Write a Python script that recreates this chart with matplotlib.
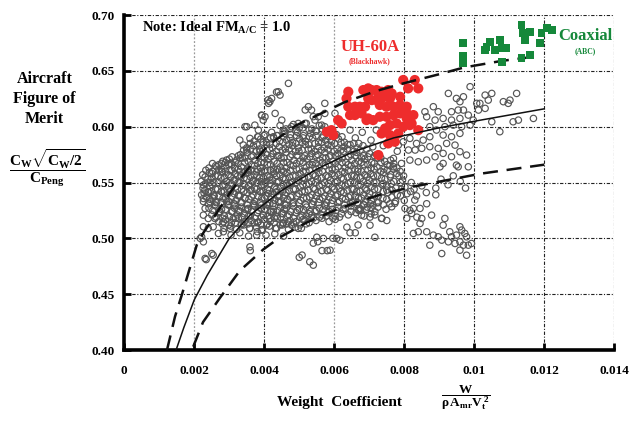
import numpy as np
import matplotlib
matplotlib.use("Agg")
import matplotlib.pyplot as plt

plt.rcParams['font.family'] = ['Liberation Serif', 'DejaVu Serif']
plt.rcParams['font.weight'] = 'bold'
plt.rcParams['mathtext.fontset'] = 'custom'
plt.rcParams['mathtext.rm'] = 'Liberation Serif:bold'
plt.rcParams['mathtext.it'] = 'Liberation Serif:bold'
plt.rcParams['mathtext.bf'] = 'Liberation Serif:bold'

# all points: x in units of 1e-4, y in units of 1e-3
# dense core of the survey data, read row by row
gray_core = [
    (44.5,601),(46.2,598),(48.3,602),(50.0,599),(52.0,603),(53.6,598),(55.7,601),(57.3,600),(59.4,597),
    (40.2,593),(42.1,595),(43.8,592),(45.8,596),(47.5,593),(49.5,595),(51.2,592),(53.2,594),(54.9,596),(56.9,592),(58.6,595),(60.6,593),(62.2,591),
    (37.1,587),(39.0,589),(40.7,586),(42.7,590),(44.4,587),(46.4,588),(48.1,586),(50.1,589),(51.8,587),(53.8,590),(55.5,586),(57.5,588),(59.2,587),(61.2,589),(62.9,586),
    (35.0,581),(36.9,583),(38.6,580),(40.6,584),(42.3,581),(44.3,582),(46.0,580),(48.0,583),(49.7,581),(51.7,584),(53.4,580),(55.4,582),(57.1,581),(59.1,583),(60.8,580),(62.8,582),(64.5,584),(66.5,581),(68.2,583),
    (33.2,575),(35.1,577),(36.8,574),(38.8,578),(40.5,575),(42.5,576),(44.2,574),(46.2,577),(47.9,575),(49.9,578),(51.6,574),(53.6,576),(55.3,575),(57.3,577),(59.0,574),(61.0,576),(62.7,578),(64.7,575),(66.4,577),(68.4,574),(70.1,576),(72.1,575),
    (28.1,569),(30.0,571),(31.7,568),(33.7,572),(35.4,569),(37.4,570),(39.1,568),(41.1,571),(42.8,569),(44.8,572),(46.5,568),(48.5,570),(50.2,569),(52.2,571),(53.9,568),(55.9,570),(57.6,572),(59.6,569),(61.3,571),(63.3,568),(65.0,570),(67.0,569),(68.7,571),(70.7,568),(72.4,572),(74.4,569),(76.1,570),
    (24.2,563),(26.1,565),(27.8,562),(29.8,566),(31.5,563),(33.5,564),(35.2,562),(37.2,565),(38.9,563),(40.9,566),(42.6,562),(44.6,564),(46.3,563),(48.3,565),(50.0,562),(52.0,564),(53.7,566),(55.7,563),(57.4,565),(59.4,562),(61.1,564),(63.1,563),(64.8,565),(66.8,562),(68.5,566),(70.5,563),(72.2,564),(74.2,562),(75.9,565),(77.9,563),
    (22.4,557),(24.3,559),(26.0,556),(28.0,560),(29.7,557),(31.7,558),(33.4,556),(35.4,559),(37.1,557),(39.1,560),(40.8,556),(42.8,558),(44.5,557),(46.5,559),(48.2,556),(50.2,558),(51.9,560),(53.9,557),(55.6,559),(57.6,556),(59.3,558),(61.3,557),(63.0,559),(65.0,556),(66.7,560),(68.7,557),(70.4,558),(72.4,556),(74.1,559),(76.1,557),(77.8,558),(79.8,556),
    (22.0,551),(23.9,553),(25.6,550),(27.6,554),(29.3,551),(31.3,552),(33.0,550),(35.0,553),(36.7,551),(38.7,554),(40.4,550),(42.4,552),(44.1,551),(46.1,553),(47.8,550),(49.8,552),(51.5,554),(53.5,551),(55.2,553),(57.2,550),(58.9,552),(60.9,551),(62.6,553),(64.6,550),(66.3,554),(68.3,551),(70.0,552),(72.0,550),(74.5,553),(77.0,551),(79.5,552),(82.0,550),
    (22.5,545),(24.4,547),(26.1,544),(28.1,548),(29.8,545),(31.8,546),(33.5,544),(35.5,547),(37.2,545),(39.2,548),(40.9,544),(42.9,546),(44.6,545),(46.6,547),(48.3,544),(50.3,546),(52.0,548),(54.0,545),(55.7,547),(57.7,544),(59.4,546),(61.4,545),(63.1,547),(65.1,544),(66.8,548),(68.8,545),(70.5,546),(72.5,544),(75.0,547),(77.6,545),(80.2,546),(82.8,544),(85.0,547),
    (22.1,539),(24.0,541),(25.7,538),(27.7,542),(29.4,539),(31.4,540),(33.1,538),(35.1,541),(36.8,539),(38.8,542),(40.5,538),(42.5,540),(44.2,539),(46.2,541),(47.9,538),(49.9,540),(51.6,542),(53.6,539),(55.3,541),(57.3,538),(59.0,540),(61.0,539),(62.7,541),(64.7,538),(66.4,542),(68.4,539),(70.1,540),(72.6,538),(75.3,541),(78.0,539),(80.8,540),(83.5,538),(86.3,541),(89.0,539),
    (22.6,533),(24.5,535),(26.2,532),(28.2,536),(29.9,533),(31.9,534),(33.6,532),(35.6,535),(37.3,533),(39.3,536),(41.0,532),(43.0,534),(44.7,533),(46.7,535),(48.4,532),(50.4,534),(52.1,536),(54.1,533),(55.8,535),(57.8,532),(59.5,534),(61.5,533),(63.2,535),(65.2,532),(66.9,536),(68.9,533),(70.6,534),(72.6,532),(75.0,535),(77.5,533),(80.0,534),
    (24.2,527),(26.1,529),(27.8,526),(29.8,530),(31.5,527),(33.5,528),(35.2,526),(37.2,529),(38.9,527),(40.9,530),(42.6,526),(44.6,528),(46.3,527),(48.3,529),(50.0,526),(52.0,528),(53.7,530),(55.7,527),(57.4,529),(59.4,526),(61.1,528),(63.1,527),(64.8,529),(66.8,526),(68.5,530),(70.5,527),(72.5,528),(74.8,526),
    (25.0,521),(26.9,523),(28.6,520),(30.6,524),(32.3,521),(34.3,522),(36.0,520),(38.0,523),(39.7,521),(41.7,524),(43.4,520),(45.4,522),(47.1,521),(49.1,523),(50.8,520),(52.8,522),(54.5,524),(56.5,521),(58.2,523),(60.2,520),(62.0,522),(64.0,521),(66.2,523),(68.5,520),(70.5,522),
    (27.0,515),(28.9,517),(30.6,514),(32.6,518),(34.3,515),(36.3,516),(38.0,514),(40.0,517),(41.7,515),(43.7,518),(45.4,514),(47.4,516),(49.1,515),(51.1,517),(52.8,514),(54.8,516),(56.5,518),(58.5,515),(60.3,517),
    (28.5,509),(30.4,511),(32.1,508),(34.1,512),(35.8,509),(37.8,510),(39.5,508),(41.5,511),(43.2,509),(45.2,512),(46.9,508),(48.9,510),(50.6,509),
    (30.5,503),(33.0,505),(35.5,502),(38.0,506),(40.5,503),(43.0,504),(45.5,502),
    (66.0,590),(68.0,595),(70.5,588),(72.0,597),(64.5,597),(67.0,585),(71.0,582),(74.0,583),(76.0,588),(78.0,578),
]

# in-between rows of the dense core
gray_fill = [
    (45.4,596),(47.3,598),(49.1,596),(51.0,599),(52.8,597),(54.7,596),(56.5,598),(58.4,596),
    (38.1,591),(39.9,592),(41.8,590),(43.6,592),(45.5,591),(47.4,590),(49.2,592),(51.1,590),(52.9,591),(54.8,592),(56.6,590),(58.5,591),(60.3,592),
    (36.0,585),(37.9,584),(39.7,586),(41.6,584),(43.4,585),(45.3,586),(47.1,584),(49.0,585),(50.8,586),(52.7,584),(54.5,585),(56.4,586),(58.2,584),(60.1,585),(61.9,586),(63.8,584),(65.6,585),
    (34.1,579),(36.0,580),(37.8,578),(39.7,579),(41.5,580),(43.4,578),(45.2,579),(47.1,580),(48.9,578),(50.8,579),(52.6,580),(54.5,578),(56.3,579),(58.2,580),(60.0,578),(61.9,579),(63.7,580),(65.6,578),(67.4,579),(69.3,580),
    (30.8,573),(32.6,574),(34.5,572),(36.3,573),(38.2,574),(40.0,572),(41.9,573),(43.7,574),(45.6,572),(47.4,573),(49.3,574),(51.1,572),(53.0,573),(54.8,574),(56.7,572),(58.5,573),(60.4,574),(62.2,572),(64.1,573),(65.9,574),(67.8,572),(69.6,573),(71.5,574),(73.3,572),
    (25.2,567),(27.0,566),(28.9,568),(30.7,566),(32.6,567),(34.4,568),(36.3,566),(38.1,567),(40.0,568),(41.8,566),(43.7,567),(45.5,568),(47.4,566),(49.2,567),(51.1,568),(52.9,566),(54.8,567),(56.6,568),(58.5,566),(60.3,567),(62.2,568),(64.0,566),(65.9,567),(67.7,568),(69.6,566),(71.4,567),(73.3,568),(75.1,566),(77.0,567),
    (23.3,561),(25.2,560),(27.0,562),(28.9,560),(30.7,561),(32.6,562),(34.4,560),(36.3,561),(38.1,562),(40.0,560),(41.8,561),(43.7,562),(45.5,560),(47.4,561),(49.2,562),(51.1,560),(52.9,561),(54.8,562),(56.6,560),(58.5,561),(60.3,562),(62.2,560),(64.0,561),(65.9,562),(67.7,560),(69.6,561),(71.4,562),(73.3,560),(75.1,561),(77.0,562),(78.8,560),
    (23.1,555),(25.0,554),(26.8,556),(28.7,554),(30.5,555),(32.4,556),(34.2,554),(36.1,555),(37.9,556),(39.8,554),(41.6,555),(43.5,556),(45.3,554),(47.2,555),(49.0,556),(50.9,554),(52.7,555),(54.6,556),(56.4,554),(58.3,555),(60.1,556),(62.0,554),(63.8,555),(65.7,556),(67.5,554),(69.4,555),(71.2,556),(73.5,554),(76.0,555),(78.5,556),
    (23.2,549),(25.1,548),(26.9,550),(28.8,548),(30.6,549),(32.5,550),(34.3,548),(36.2,549),(38.0,550),(39.9,548),(41.7,549),(43.6,550),(45.4,548),(47.3,549),(49.1,550),(51.0,548),(52.8,549),(54.7,550),(56.5,548),(58.4,549),(60.2,550),(62.1,548),(63.9,549),(65.8,550),(67.6,548),(69.5,549),(71.3,550),(73.7,548),(76.3,549),(78.9,550),
    (23.0,543),(24.9,542),(26.7,544),(28.6,542),(30.4,543),(32.3,544),(34.1,542),(36.0,543),(37.8,544),(39.7,542),(41.5,543),(43.4,544),(45.2,542),(47.1,543),(48.9,544),(50.8,542),(52.6,543),(54.5,544),(56.3,542),(58.2,543),(60.0,544),(61.9,542),(63.7,543),(65.6,544),(67.4,542),(69.3,543),(71.5,544),(74.0,542),(76.5,543),(79.2,544),(81.8,542),
    (23.4,537),(25.3,536),(27.1,538),(29.0,536),(30.8,537),(32.7,538),(34.5,536),(36.4,537),(38.2,538),(40.1,536),(41.9,537),(43.8,538),(45.6,536),(47.5,537),(49.3,538),(51.2,536),(53.0,537),(54.9,538),(56.7,536),(58.6,537),(60.4,538),(62.3,536),(64.1,537),(66.0,538),(67.8,536),(69.7,537),(71.6,538),(73.9,536),(76.4,537),(78.9,538),
    (24.0,531),(25.9,530),(27.7,532),(29.6,530),(31.4,531),(33.3,532),(35.1,530),(37.0,531),(38.8,532),(40.7,530),(42.5,531),(44.4,532),(46.2,530),(48.1,531),(49.9,532),(51.8,530),(53.6,531),(55.5,532),(57.3,530),(59.2,531),(61.0,532),(62.9,530),(64.7,531),(66.6,532),(68.4,530),(70.3,531),(72.2,532),(74.0,530),
    (25.3,525),(27.2,524),(29.0,526),(30.9,524),(32.7,525),(34.6,526),(36.4,524),(38.3,525),(40.1,526),(42.0,524),(43.8,525),(45.7,526),(47.5,524),(49.4,525),(51.2,526),(53.1,524),(54.9,525),(56.8,526),(58.6,524),(60.5,525),(62.5,526),(64.8,524),(67.0,525),(69.2,526),
    (26.2,519),(28.1,518),(29.9,520),(31.8,518),(33.6,519),(35.5,520),(37.3,518),(39.2,519),(41.0,520),(42.9,518),(44.7,519),(46.6,520),(48.4,518),(50.3,519),(52.1,520),(54.0,518),(55.8,519),(57.7,520),(59.6,518),(61.5,519),
    (28.0,513),(29.8,512),(31.7,514),(33.5,512),(35.4,513),(37.2,514),(39.1,512),(40.9,513),(42.8,514),(44.6,512),(46.5,513),(48.3,514),(50.2,512),(52.0,513),
]

# upper edge of the survey cloud
gray_upper = [
    (46.9,638.8),(44.0,631.3),(44.5,628.3),(41.6,622.4),(42.1,625.3),(41.2,620.9),(43.1,611.9),(39.2,610.4),
    (40.2,608.9),(39.7,605.9),(45.0,605.9),(34.5,600.0),(37.3,601.4),(38.3,597.0),(33.0,588.0),(35.9,589.5),
    (34.0,583.6),(35.0,579.1),(42.6,591.0),(45.9,594.0),(29.2,570.1),(27.8,567.1),(30.2,567.1),(32.1,570.1),
    (26.4,564.1),(52.6,617.9),(53.5,614.9),(57.3,620.9),(57.3,611.9),(60.2,611.9),(55.4,608.9),(49.7,602.9),
    (47.8,600.0),(51.6,602.9),(54.5,605.9),(56.4,601.4),(43.5,631.0),(41.1,624.0),(39.3,610.0),(35.0,600.0),
    (38.3,591.0),(51.7,615.0),(54.0,609.0),(33.1,572.0),(24.5,550.0),(22.8,540.5),
]

# left and lower part of the cloud
gray_left = [
    (22.6,547.7),(24.0,541.7),(22.6,535.7),(24.5,532.7),(23.1,526.8),(22.6,520.8),(24.0,517.8),(22.6,510.4),
    (24.0,508.9),(25.4,510.4),(22.1,501.4),(22.6,496.9),(25.0,486.4),(23.1,482.0),(28.3,505.9),(26.9,504.4),
    (25.9,517.8),(27.3,523.8),(28.3,514.8),(30.2,508.9),(31.1,517.8),(33.0,523.8),(31.6,529.8),(29.2,532.7),
    (26.4,532.7),(25.4,538.7),(27.8,541.7),(30.2,541.7),(32.6,538.7),(34.5,535.7),(35.4,526.8),(33.5,513.3),
    (35.9,508.9),(37.8,502.9),(39.2,507.4),(38.3,514.8),(40.7,511.9),(41.6,517.8),(43.5,508.9),(45.4,513.3),
    (39.7,520.8),(42.6,523.8),(45.0,522.3),(36.9,529.8),(39.2,529.8),(41.6,531.3),(44.0,532.7),(45.9,529.8),
    (36.4,543.2),(38.8,541.7),(41.2,540.2),(43.5,541.7),(45.9,538.7),(29.2,550.7),(31.6,552.2),(34.0,549.2),
    (36.9,552.2),(39.2,550.7),(41.6,552.2),(44.0,550.7),(46.4,549.2),(27.8,559.6),(30.2,561.1),(33.0,559.6),
    (35.4,561.1),(37.8,559.6),(40.2,561.1),(42.6,559.6),(45.0,561.1),(35.9,492.4),(25.0,558.1),(21.7,500.0),
    (23.4,481.0),(25.4,485.0),(36.0,489.0),
]

gray_low = [
    (50.8,485.0),(53.0,479.0),(54.0,476.0),(55.3,497.0),(56.5,489.0),(58.0,489.0),(55.0,501.0),(54.0,495.7),
    (58.8,489.4),(61.6,498.4),(59.6,500.1),(50.0,483.0),(63.6,510.0),(64.5,505.0),(66.0,505.0),(66.8,512.0),
    (71.6,501.0),(70.2,519.0),(71.6,521.0),(73.6,518.0),(75.0,516.0),(67.4,525.0),(69.4,528.0),(75.9,531.0),
    (81.6,525.0),(80.7,518.0),(83.6,519.0),(86.4,531.0),(67.3,526.8),(71.1,529.8),(71.6,523.8),(70.2,511.8),
    (67.8,520.8),(56.9,499.9),(60.7,499.9),(47.8,511.8),(49.7,508.9),(46.9,514.8),(51.6,516.3),(53.5,520.8),
]

gray_right = [
    (76.4,528.3),(77.3,531.3),(73.5,517.8),(80.2,526.8),(82.6,526.8),(83.0,534.3),(84.5,526.8),(82.1,522.3),
    (85.0,517.8),(87.8,520.8),(84.5,513.3),(84.0,505.9),(82.6,504.4),(86.4,505.9),(88.3,502.9),(87.3,493.9),
    (90.7,498.4),(89.7,501.4),(91.6,517.8),(91.1,511.8),(93.0,505.9),(93.5,501.4),(94.9,502.9),(95.9,510.4),
    (96.4,507.4),(97.3,504.4),(97.8,501.4),(92.6,496.9),(94.5,495.4),(95.9,496.9),(96.9,493.9),(98.3,493.9),
    (99.2,495.4),(95.9,489.4),(97.8,484.9),(90.7,486.4),(95.4,564.1),(98.3,564.1),(75.0,543.2),(74.0,549.2),
    (90.5,553.0),(92.5,548.0),(94.0,556.0),(96.0,551.0),(97.5,545.0),(89.0,545.0),
    (92.6,629.8),(94.9,625.3),(95.9,622.4),(96.9,626.8),(98.8,635.8),(100.7,620.9),(88.3,617.9),(89.7,613.4),
    (93.5,613.4),(95.4,614.9),(96.9,614.9),(85.9,613.4),(86.4,608.9),(88.8,605.9),(91.1,607.4),(93.5,605.9),
    (95.9,607.4),(98.3,610.4),(99.7,605.9),(91.6,600.0),(94.0,601.4),(96.4,600.0),(98.8,601.4),(87.3,600.0),
    (89.2,597.0),(91.1,592.5),(93.5,591.0),(95.9,594.0),(87.3,591.0),(85.4,588.0),(83.5,585.0),(81.6,589.5),
    (79.7,586.5),(78.3,583.5),(81.2,579.1),(83.1,579.1),(85.0,580.6),(87.3,582.1),(89.7,580.6),(92.1,585.0),
    (94.5,583.5),(88.8,573.1),(91.1,576.1),(93.5,573.1),(95.9,577.6),(97.8,574.6),(86.4,570.1),(84.0,568.6),
    (81.6,570.1),(79.2,567.1),(76.9,571.6),(76.9,564.1),(91.1,567.1),(94.9,565.6),(90.2,564.1),
    (101.6,620.9),(103.1,628.3),(105.0,629.8),(104.0,623.8),(101.2,614.9),(103.1,616.4),(108.3,622.4),
    (110.2,623.8),(112.1,629.8),(109.7,620.9),(105.0,604.4),(111.1,604.4),(112.6,605.9),(116.9,607.4),(107.3,595.5),
]

# UH-60A (Blackhawk)
red_pts = [
    (64.0,631.3),(63.5,625.3),(64.0,617.9),(68.3,632.8),(69.7,634.3),(70.7,632.8),(72.1,632.8),(73.5,631.3),
    (75.4,632.8),(76.4,629.8),(79.7,641.8),(83.0,641.8),(84.0,634.3),(81.1,634.3),(78.8,626.8),(75.9,625.3),
    (74.0,626.8),(72.1,623.8),(70.7,623.8),(68.8,617.9),(67.3,617.9),(65.9,617.9),(64.5,610.4),(61.1,605.9),
    (59.2,596.9),(59.7,592.5),(69.7,607.4),(71.1,605.9),(73.0,608.9),(74.9,608.9),(76.9,610.4),(78.8,611.9),
    (80.7,611.9),(82.6,610.4),(84.0,596.9),(81.6,601.4),(79.7,599.9),(77.8,602.9),(75.9,601.4),(74.5,598.4),
    (73.5,593.9),(75.9,592.5),(75.4,585.0),(77.3,586.5),(72.6,574.6),(73.0,619.4),(74.9,617.9),(76.9,617.9),
    (78.8,619.4),(80.7,617.9),(73.5,625.3),(72.6,629.8),(69.7,625.3),(62.1,602.9),(69.2,605.9),(65.9,610.4),
    (67.8,611.9),(82.1,602.9),(80.7,607.4),(78.3,593.9),(57.9,595.4),
]

# Coaxial (ABC)
green_pts = [
    (96.8,674.6),(96.8,663.0),(96.8,657.0),(103.5,671.6),(104.5,676.1),(107.3,677.6),(107.8,670.1),
    (109.2,670.1),(105.9,668.6),(103.0,668.6),(107.8,658.2),(113.5,691.0),(114.0,683.6),(115.9,685.1),
    (114.5,677.6),(113.5,661.2),(115.9,664.2),(118.8,674.6),(120.7,688.1),(122.1,686.6),(119.2,683.6),
]

# trend curves
mid_x = [14.8, 17.0, 20.0, 23.7, 30.0, 36.0, 45.0, 55.0, 65.0, 77.0, 90.0, 102.0, 120.0]
mid_y = [400, 420, 445, 467, 500, 521, 543, 562, 577, 590, 599, 606, 616]
up_x = [12.2, 14.5, 16.5, 18.5, 20.7, 22.6, 25.0, 30.0, 35.0, 41.0, 49.0, 57.0, 63.0, 72.0, 80.0, 90.0, 97.0, 108.0, 118.0]
up_y = [400, 430, 450, 471, 494, 505, 516, 540, 561, 583, 601, 613, 622, 632, 639, 647, 653, 659, 663]
lo_x = [19.7, 22.5, 27.4, 33.0, 39.7, 44.5, 52.0, 60.0, 67.0, 73.0, 82.0, 92.0, 102.0, 120.0]
lo_y = [403, 425, 447, 471, 490, 501, 514, 525, 533, 539, 546, 552, 558, 566]

x_ticks = [0, 0.002, 0.004, 0.006, 0.008, 0.01, 0.012, 0.014]
x_labels = ['0', '0.002', '0.004', '0.006', '0.008', '0.01', '0.012', '0.014']
y_ticks = [0.40, 0.45, 0.50, 0.55, 0.60, 0.65, 0.70]
y_labels = ['0.40', '0.45', '0.50', '0.55', '0.60', '0.65', '0.70']


def split(pts):
    a = np.array(pts, dtype=float)
    return a[:, 0] * 1e-4, a[:, 1] * 1e-3


fig = plt.figure(figsize=(6.39, 4.21), dpi=100)
ax = fig.add_axes([0.1945, 0.1686, 0.7668, 0.7957])
ax.set_xlim(0, 0.014)
ax.set_ylim(0.40, 0.70)

# grid
for xv in x_ticks[1:]:
    if xv in (0.002, 0.006):
        ax.axvline(xv, color='#9a9a9a', lw=0.9, ls=(0, (1.5, 1.5)), zorder=1)
    else:
        ax.axvline(xv, color='#222222', lw=0.8, ls=(0, (3, 1.5, 1, 1.5)), zorder=1)
for yv in y_ticks[1:]:
    ax.axhline(yv, color='#222222', lw=0.8, ls=(0, (3, 1.5, 1, 1.5)), zorder=1)

gx, gy = split(gray_core + gray_fill + gray_upper + gray_left + gray_low + gray_right)
ax.scatter(gx, gy, s=21, facecolors='none', edgecolors='#555555', linewidths=0.85, zorder=2)

rx, ry = split(red_pts)
ax.scatter(rx, ry, s=54, color='#ee2c2c', edgecolors='none', zorder=3)

ax.plot(np.array(mid_x) * 1e-4, np.array(mid_y) * 1e-3, color='#111111', lw=1.1, zorder=4)
ax.plot(np.array(up_x) * 1e-4, np.array(up_y) * 1e-3, color='#111111', lw=1.8, ls=(0, (6, 3.5)), zorder=4)
ax.plot(np.array(lo_x) * 1e-4, np.array(lo_y) * 1e-3, color='#111111', lw=1.8, ls=(0, (6, 3.5)), zorder=4)

cx, cy = split(green_pts)
ax.scatter(cx, cy, s=32, marker='s', color='#15883a', edgecolors='none', zorder=5)

for side in ['top', 'right']:
    ax.spines[side].set_visible(False)
for side in ['left', 'bottom']:
    ax.spines[side].set_linewidth(2.6)
    ax.spines[side].set_color('black')

ax.set_xticks(x_ticks)
ax.set_xticklabels(x_labels)
ax.set_yticks(y_ticks)
ax.set_yticklabels(y_labels)
ax.tick_params(axis='x', direction='in', length=5, width=2, pad=11, labelsize=9.5)
ax.tick_params(axis='y', direction='in', length=5, width=2, pad=7, labelsize=9.5)
for lab in ax.get_xticklabels() + ax.get_yticklabels():
    lab.set_fontweight('bold')

# annotations
fig.text(0.222, 0.933, r'Note: Ideal FM$_{A/C}$ = 1.0', ha='left', va='center', fontsize=10.5)
fig.text(0.579, 0.888, 'UH-60A', ha='center', va='center', fontsize=12, color='#ee2c2c')
fig.text(0.579, 0.855, '(Blackhawk)', ha='center', va='center', fontsize=5.5, color='#ee2c2c')
fig.text(0.9155, 0.9145, 'Coaxial', ha='center', va='center', fontsize=12, color='#15883a')
fig.text(0.9155, 0.879, '(ABC)', ha='center', va='center', fontsize=5.5, color='#15883a')

fig.text(0.070, 0.765, 'Aircraft\nFigure of\nMerit', ha='center', va='center', fontsize=11.5, linespacing=1.3)
fig.text(0.073, 0.600, r'$\dfrac{C_W\sqrt{C_W/2}}{C_{Peng}}$', ha='center', va='center', fontsize=11)

fig.text(0.532, 0.045, 'Weight  Coefficient', ha='center', va='center', fontsize=11)
fig.text(0.728, 0.055, r'$\dfrac{W}{\rho\, A_{mr} V_t^{\,2}}$', ha='center', va='center', fontsize=9.5)

fig.savefig('out.png', dpi=100)
